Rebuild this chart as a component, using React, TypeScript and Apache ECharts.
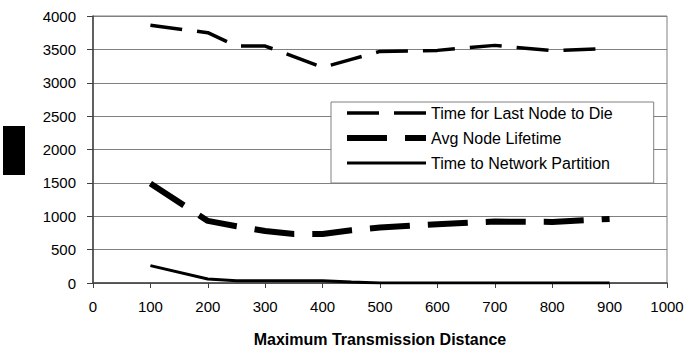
import React, { useEffect, useRef } from "react";
import * as echarts from "echarts";

const distances = [100, 200, 250, 300, 350, 400, 450, 500, 600, 700, 800, 900];
const lastNodeDeath = [3860, 3750, 3550, 3550, 3390, 3230, 3350, 3470, 3485, 3560, 3480, 3515];
const avgLifetime = [1490, 930, 850, 780, 735, 735, 790, 830, 880, 920, 915, 960];
const networkPartition = [260, 60, 35, 35, 35, 35, 15, 0, 0, 0, 0, 0];

const seriesNames = [
  "Time for Last Node to Die",
  "Avg Node Lifetime",
  "Time to Network Partition",
];

const FONT = "'Liberation Sans', Arial, sans-serif";

export default function App() {
  const ref = useRef<HTMLDivElement>(null);

  useEffect(() => {
    if (!ref.current) return;
    const chart = echarts.init(ref.current, null, { renderer: "svg" });
    const pairs = (vals: number[]) => distances.map((d, i) => [d, vals[i]]);
    const styles = [
      { width: 3.5, type: [32, 15] as any },
      { width: 6, type: [40, 18] as any },
      { width: 3, type: "solid" as any },
    ];
    const values = [lastNodeDeath, avgLifetime, networkPartition];
    chart.setOption({
      animation: false,
      backgroundColor: "#fff",
      grid: {
        left: 93,
        right: 21,
        top: 16,
        bottom: 67,
        containLabel: false,
        show: true,
        borderColor: "#808080",
        borderWidth: 1,
        backgroundColor: "#fff",
      },
      xAxis: {
        type: "value",
        min: 0,
        max: 1000,
        interval: 100,
        name: "Maximum Transmission Distance",
        nameLocation: "middle",
        nameGap: 48,
        nameTextStyle: { fontFamily: FONT, fontSize: 16, fontWeight: "bold", color: "#000" },
        axisLine: { show: true, lineStyle: { color: "#404040", width: 1.5 } },
        axisTick: { show: true, inside: false, length: 5, lineStyle: { color: "#404040" } },
        axisLabel: {
          margin: 16,
          fontFamily: FONT,
          fontSize: 15,
          color: "#000",
          formatter: (v: number) => String(v),
        },
        splitLine: { show: false },
      },
      yAxis: {
        type: "value",
        min: 0,
        max: 4000,
        interval: 500,
        axisLine: { show: true, lineStyle: { color: "#404040", width: 1.5 } },
        axisTick: { show: true, inside: false, length: 6, lineStyle: { color: "#404040" } },
        axisLabel: {
          margin: 17,
          fontFamily: FONT,
          fontSize: 15,
          color: "#000",
          formatter: (v: number) => String(v),
        },
        splitLine: { show: true, lineStyle: { color: "#808080", width: 1 } },
      },
      legend: {
        orient: "vertical",
        left: 331,
        top: 102,
        padding: [3, 41, 12, 13],
        itemGap: 9,
        itemWidth: 79,
        itemHeight: 14,
        backgroundColor: "#fff",
        borderColor: "#808080",
        borderWidth: 1,
        selectedMode: false,
        textStyle: { fontFamily: FONT, fontSize: 16, lineHeight: 16, color: "#000" },
        itemStyle: { opacity: 0, color: "rgba(0,0,0,0)", borderWidth: 0 },
        data: seriesNames.map((n, i) => ({
          name: n,
          itemStyle: { opacity: 0, color: "rgba(0,0,0,0)", borderWidth: 0 },
          lineStyle: { width: styles[i].width, type: styles[i].type, color: "#000", opacity: 1 },
        })),
      },
      graphic: [
        { type: "rect", left: 3, top: 126, shape: { width: 22, height: 49 }, style: { fill: "#000" } },
      ],
      series: seriesNames.map((n, i) => ({
        name: n,
        type: "line",
        data: pairs(values[i]),
        symbol: "none",
        color: "#000",
        lineStyle: { color: "#000", width: styles[i].width, type: styles[i].type },
      })),
    });
    return () => chart.dispose();
  }, []);

  return (
    <div
      ref={ref}
      style={{ position: "absolute", left: 0, top: 0, width: 688, height: 352 }}
    />
  );
}
